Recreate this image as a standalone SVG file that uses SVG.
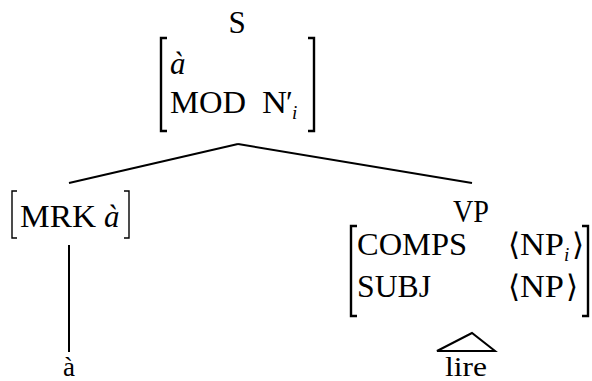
<svg xmlns="http://www.w3.org/2000/svg" width="592" height="381" viewBox="0 0 592 381">
<style>
text{font-family:"Liberation Serif","DejaVu Serif",serif;font-size:31px;fill:#000}
.it{font-style:italic}
.sub{font-style:italic;font-size:19px}
.leaf{font-size:27px}
.br{fill:none;stroke:#000;stroke-width:2.4}
.br1{fill:none;stroke:#000;stroke-width:1.4}
.ln{fill:none;stroke:#000;stroke-width:2}
</style>
<rect width="592" height="381" fill="#fff"/>
<g id="connectors">
<line class="ln" x1="238" y1="144" x2="69" y2="183"/>
<line class="ln" x1="238" y1="144" x2="472" y2="183"/>
<line class="ln" x1="69" y1="245" x2="69" y2="352"/>
<polygon class="ln" points="472,333 437,351 495,351"/>
</g>
<g id="S">
<text x="237" y="33" text-anchor="middle">S</text>
<path class="br" d="M167,38 H161 V131 H167"/>
<path class="br" d="M308,38 H314 V131 H308"/>
<text class="it" x="170" y="74">à</text>
<text x="170" y="113" textLength="76" lengthAdjust="spacingAndGlyphs">MOD</text>
<text x="262" y="113" textLength="25" lengthAdjust="spacingAndGlyphs">N</text>
<text x="286" y="113">′</text>
<text class="sub" x="292" y="119">i</text>
</g>
<g id="MRK">
<path class="br1" d="M17,191 H12 V238 H17"/>
<path class="br1" d="M124,191 H129 V238 H124"/>
<text x="20" y="227" textLength="76" lengthAdjust="spacingAndGlyphs">MRK</text>
<text class="it" x="104" y="227">à</text>
</g>
<g id="a">
<text class="leaf" x="69" y="376" text-anchor="middle">à</text>
</g>
<g id="VP">
<text x="471" y="222" text-anchor="middle" textLength="36" lengthAdjust="spacingAndGlyphs">VP</text>
<path class="br" d="M357,226 H351 V316 H357"/>
<path class="br" d="M582,226 H588 V316 H582"/>
<text x="357" y="255" textLength="110" lengthAdjust="spacingAndGlyphs">COMPS</text>
<text x="357" y="297" textLength="74" lengthAdjust="spacingAndGlyphs">SUBJ</text>
<text x="508" y="255">⟨</text>
<text x="520" y="255" textLength="44" lengthAdjust="spacingAndGlyphs">NP</text>
<text class="sub" x="564" y="261">i</text>
<text x="572" y="255">⟩</text>
<text x="508" y="297">⟨</text>
<text x="520" y="297" textLength="44" lengthAdjust="spacingAndGlyphs">NP</text>
<text x="566" y="297">⟩</text>
</g>
<g id="lire">
<text class="leaf" x="466" y="376" text-anchor="middle" textLength="42" lengthAdjust="spacingAndGlyphs">lire</text>
</g>
</svg>
